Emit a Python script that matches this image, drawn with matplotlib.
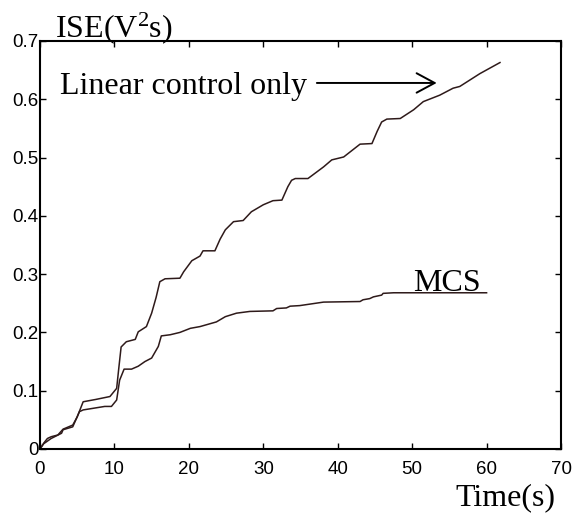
import matplotlib
matplotlib.use("Agg")
import matplotlib.pyplot as plt

# Data
lin_x = [0, 0.5, 1.0, 1.5, 2.4, 3.1, 4.4, 5.0, 5.8, 7.5, 9.4, 10.3, 10.6, 10.9, 11.6,
         12.8, 13.2, 14.3, 15.0, 15.6, 16.1, 16.8, 18.8, 19.3, 20.4, 21.5, 21.9, 23.5,
         24.2, 24.9, 26.0, 27.3, 28.4, 30.0, 31.3, 32.5, 33.3, 33.8, 34.3, 36.0, 38.1,
         39.2, 40.8, 43.0, 44.6, 45.3, 45.9, 46.6, 48.4, 50.2, 51.5, 53.7, 55.5, 56.4,
         59.1, 61.8]
lin_y = [0, 0.010, 0.018, 0.021, 0.024, 0.034, 0.041, 0.055, 0.081, 0.085, 0.090, 0.104,
         0.140, 0.175, 0.184, 0.188, 0.201, 0.210, 0.233, 0.260, 0.287, 0.292, 0.293,
         0.304, 0.323, 0.331, 0.340, 0.340, 0.360, 0.376, 0.390, 0.392, 0.407, 0.419,
         0.426, 0.427, 0.450, 0.461, 0.464, 0.464, 0.484, 0.496, 0.501, 0.523, 0.524,
         0.545, 0.561, 0.566, 0.567, 0.582, 0.596, 0.607, 0.619, 0.622, 0.644, 0.663]

mcs_x = [0, 0.5, 1.5, 2.9, 3.1, 4.4, 5.3, 5.8, 8.7, 9.6, 10.3, 10.7, 11.3, 12.3, 13.2,
         14.1, 15.0, 15.9, 16.3, 17.5, 18.8, 20.2, 21.5, 23.7, 24.9, 26.4, 28.2, 31.3,
         31.8, 33.1, 33.6, 34.9, 38.1, 43.0, 43.4, 44.3, 44.8, 45.9, 46.1, 47.5, 60.0]
mcs_y = [0, 0.009, 0.018, 0.027, 0.033, 0.038, 0.064, 0.067, 0.073, 0.073, 0.084, 0.118,
         0.137, 0.137, 0.142, 0.150, 0.156, 0.176, 0.194, 0.196, 0.200, 0.207, 0.210,
         0.218, 0.227, 0.233, 0.236, 0.237, 0.241, 0.242, 0.245, 0.246, 0.252, 0.253,
         0.256, 0.258, 0.261, 0.264, 0.267, 0.268, 0.268]

xticks = [0, 10, 20, 30, 40, 50, 60, 70]
yticks = [0, 0.1, 0.2, 0.3, 0.4, 0.5, 0.6, 0.7]
ytick_labels = ["0", "0.1", "0.2", "0.3", "0.4", "0.5", "0.6", "0.7"]

plt.rcParams['mathtext.fontset'] = 'custom'
plt.rcParams['mathtext.rm'] = 'Liberation Serif'

fig = plt.figure(figsize=(5.72, 5.13), dpi=100)
ax = fig.add_axes([0.0699, 0.1248, 0.9109, 0.7953])

line_color = '#2e1a1a'
ax.plot(lin_x, lin_y, color=line_color, lw=1.1)
ax.plot(mcs_x, mcs_y, color=line_color, lw=1.1)

ax.set_xlim(0, 70)
ax.set_ylim(0, 0.7)
ax.set_xticks(xticks)
ax.set_yticks(yticks)
ax.set_yticklabels(ytick_labels)
ax.set_xticklabels([str(t) for t in xticks])

for lab in ax.get_xticklabels() + ax.get_yticklabels():
    lab.set_fontfamily('Liberation Sans')
    lab.set_fontsize(13.5)

ax.tick_params(direction='in', top=True, right=True, length=4, width=1)
ax.tick_params(axis='x', pad=9)
ax.tick_params(axis='y', pad=1)
for s in ax.spines.values():
    s.set_linewidth(1.5)

serif = 'Liberation Serif'
ax.text(2.7, 0.609, 'Linear control only', fontfamily=serif, fontsize=23, va='baseline', ha='left')
ax.annotate('', xy=(53.3, 0.628), xytext=(37.2, 0.628),
            arrowprops=dict(arrowstyle='->,head_length=0.65,head_width=0.35',
                            mutation_scale=20, color='black', lw=1.4,
                            shrinkA=0, shrinkB=0))
ax.text(50.1, 0.2715, 'MCS', fontfamily=serif, fontsize=23, va='baseline', ha='left')
ax.text(2.0, 0.706, r'$\mathrm{ISE(V^2s)}$', fontsize=23, va='baseline', ha='left', clip_on=False)
ax.text(55.8, -0.096, 'Time(s)', fontfamily=serif, fontsize=23, va='baseline', ha='left', clip_on=False)

fig.savefig('out.png', dpi=100)
